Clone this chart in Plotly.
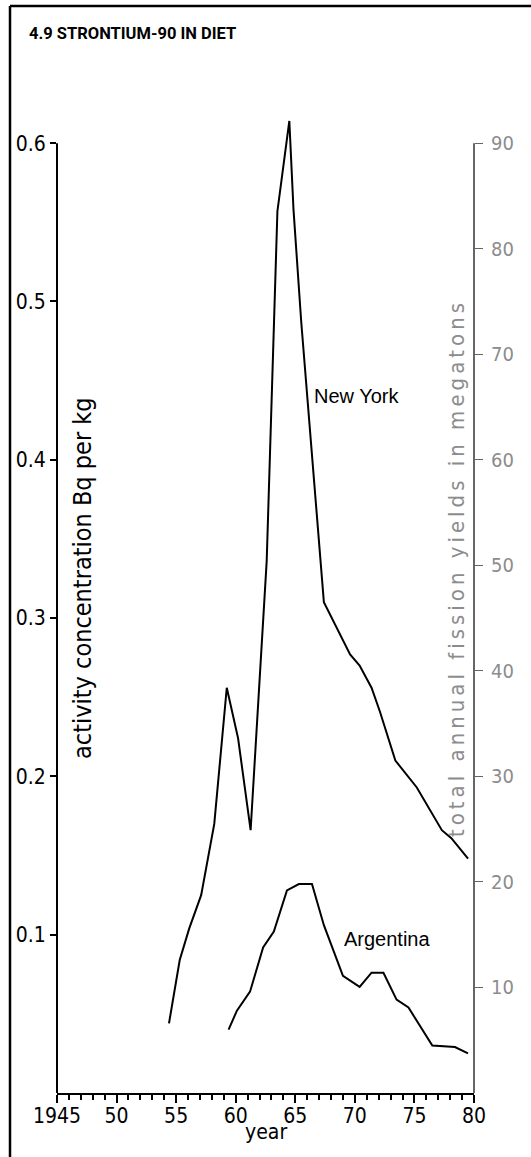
import plotly.graph_objects as go

# New York, activity concentration (Bq per kg)
ny_years = [1954.4, 1955.3, 1956.1, 1957.1, 1958.2, 1959.25, 1960.2, 1961.25,
            1962.6, 1962.9, 1963.2, 1963.5, 1964.5, 1964.85, 1965.5, 1966.2,
            1967.1, 1967.4, 1969.6, 1970.4, 1971.4, 1972.1, 1973.4, 1975.2,
            1977.3, 1978.1, 1979.5]
ny_values = [0.044, 0.084, 0.104, 0.125, 0.170, 0.256, 0.224, 0.166,
             0.336, 0.409, 0.487, 0.557, 0.614, 0.558, 0.487, 0.420,
             0.336, 0.310, 0.277, 0.270, 0.256, 0.241, 0.210, 0.193,
             0.166, 0.161, 0.148]

# Argentina
arg_years = [1959.4, 1960.1, 1961.2, 1962.3, 1963.2, 1964.3, 1965.3, 1966.4,
             1967.4, 1969.0, 1970.4, 1971.4, 1972.4, 1973.5, 1974.5, 1976.5,
             1978.4, 1979.5]
arg_values = [0.040, 0.052, 0.064, 0.092, 0.102, 0.128, 0.132, 0.132,
              0.106, 0.074, 0.067, 0.076, 0.076, 0.059, 0.054, 0.030,
              0.029, 0.025]

x_tickvals = [1945, 1950, 1955, 1960, 1965, 1970, 1975, 1980]
x_ticktext = ["1945", "50", "55", "60", "65", "70", "75", "80"]
left_ticks = [0.1, 0.2, 0.3, 0.4, 0.5, 0.6]
left_ticktext = ["0.1", "0.2", "0.3", "0.4", "0.5", "0.6"]
right_ticks = [10, 20, 30, 40, 50, 60, 70, 80, 90]

W, H = 531, 1157
L, R, T, B = 57, 57, 64, 64
Y_MAX = 0.65
SCALE2 = 150  # 0.6 Bq/kg lines up with 90 megatons

NARROW = "DejaVu Sans Condensed, Liberation Sans Narrow, sans-serif"
SANS = "Liberation Sans, Arial, sans-serif"


def px_x(p):
    return (p - L) / (W - L - R)


def px_y(p):
    return (H - B - p) / (H - T - B)


fig = go.Figure()
fig.add_trace(go.Scatter(x=ny_years, y=ny_values, mode="lines",
                         line=dict(color="black", width=2), showlegend=False))
fig.add_trace(go.Scatter(x=arg_years, y=arg_values, mode="lines",
                         line=dict(color="black", width=2), showlegend=False))
# invisible trace to bring up the right-hand axis
fig.add_trace(go.Scatter(x=[1945], y=[0], yaxis="y2", mode="lines",
                         line=dict(width=0), showlegend=False, hoverinfo="skip"))

fig.update_layout(
    width=W, height=H,
    margin=dict(l=L, r=R, t=T, b=B),
    paper_bgcolor="white", plot_bgcolor="white",
    xaxis=dict(range=[1945, 1980], tickvals=x_tickvals, ticktext=x_ticktext,
               showgrid=False, zeroline=False, showline=True, linecolor="black",
               linewidth=2, ticks="outside", ticklen=8, tickwidth=2, tickcolor="black",
               ticklabelstandoff=-5,
               minor=dict(dtick=1, ticks="outside", ticklen=5, tickwidth=1.5,
                          tickcolor="black", showgrid=False),
               tickfont=dict(family=NARROW, size=21, color="black")),
    yaxis=dict(range=[0, Y_MAX], tickvals=left_ticks, ticktext=left_ticktext,
               showgrid=False, zeroline=False, showline=False,
               ticks="outside", ticklen=6, tickwidth=1.5, tickcolor="black",
               tickfont=dict(family=NARROW, size=21, color="black")),
    yaxis2=dict(range=[0, Y_MAX * SCALE2], tickvals=right_ticks, overlaying="y",
                side="right", showgrid=False, zeroline=False, showline=False,
                ticks="outside", ticklen=8, tickwidth=1, tickcolor="#666",
                ticklabelstandoff=4,
                tickfont=dict(family=NARROW, size=20, color="#8c8c8c")),
)

# axis spines that stop at the top tick
fig.add_shape(type="line", xref="x domain", yref="y", x0=0, x1=0, y0=0, y1=0.6,
              line=dict(color="black", width=2))
fig.add_shape(type="line", xref="x domain", yref="y2", x0=1, x1=1, y0=0, y1=90,
              line=dict(color="#333", width=1.5))

# frame around the figure (top and left edges)
fig.add_shape(type="line", xref="paper", yref="paper", x0=px_x(10), x1=px_x(W + 2),
              y0=px_y(6), y1=px_y(6), line=dict(color="black", width=2.5))
fig.add_shape(type="line", xref="paper", yref="paper", x0=px_x(10), x1=px_x(10),
              y0=px_y(6), y1=px_y(H + 2), line=dict(color="black", width=2.5))

fig.add_annotation(text="<b>4.9 STRONTIUM-90 IN DIET</b>", xref="paper", yref="paper",
                   x=px_x(27), y=px_y(34), xanchor="left", yanchor="middle",
                   showarrow=False, font=dict(family="Roboto, Liberation Sans, sans-serif",
                                              size=16.5, color="black"))
fig.add_annotation(text="year", xref="paper", yref="paper", x=0.5, y=px_y(1132),
                   xanchor="center", yanchor="middle", showarrow=False,
                   font=dict(family=NARROW, size=21, color="black"))
fig.add_annotation(text="activity concentration Bq per kg", xref="paper", yref="paper",
                   x=px_x(82), y=px_y(578), textangle=-90, showarrow=False,
                   xanchor="center", yanchor="middle",
                   font=dict(family=NARROW, size=25, color="black"))
fig.add_annotation(text="<span style='letter-spacing:4px'>total annual fission yields in megatons</span>",
                   xref="paper", yref="paper", x=px_x(456), y=px_y(568), textangle=-90,
                   showarrow=False, xanchor="center", yanchor="middle",
                   font=dict(family=NARROW, size=22, color="#8c8c8c"))
fig.add_annotation(text="New York", x=1966.4, y=0.440, xanchor="left", yanchor="middle",
                   showarrow=False, font=dict(family=SANS, size=20, color="black"))
fig.add_annotation(text="Argentina", x=1968.9, y=0.097, xanchor="left", yanchor="middle",
                   showarrow=False, font=dict(family=SANS, size=20, color="black"))

# the page body has a default 8px margin; remove it so the figure fills the window
fig.write_html("out.html", config={"displayModeBar": False},
               post_script="document.body.style.margin='0';")
